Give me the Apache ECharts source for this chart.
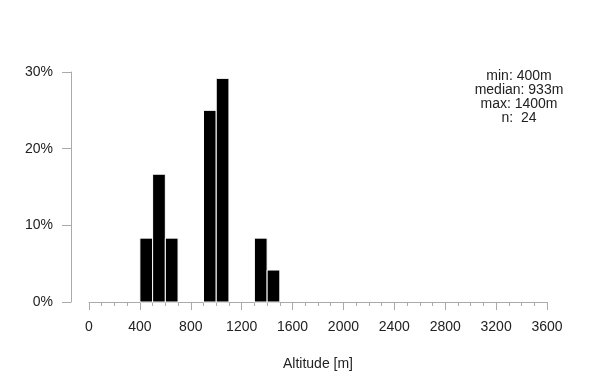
<!DOCTYPE html>
<html>
<head>
<meta charset="utf-8">
<script src="https://cdn.jsdelivr.net/npm/echarts@6/dist/echarts.min.js"></script>
<style>
  html, body { margin: 0; padding: 0; background: #fff; }
  #chart-container { width: 600px; height: 390px; }
</style>
</head>
<body>
<div id="chart-container"></div>
<script>
// histogram bins (100 m wide), share of observations in %
var binStart = [400, 500, 600, 900, 1000, 1300, 1400];
var binEnd = [500, 600, 700, 1000, 1100, 1400, 1500];
var binShare = [8.33, 16.67, 8.33, 25.0, 29.17, 8.33, 4.17];
var statLines = ["min: 400m", "median: 933m", "max: 1400m", "n:  24"];

var dom = document.getElementById("chart-container");
var myChart = echarts.init(dom, null, { renderer: "canvas" });

var barData = binStart.map(function (s, i) {
  return [s, binEnd[i], binShare[i]];
});

var font = "'Liberation Sans', Arial, sans-serif";

var option = {
  animation: false,
  backgroundColor: "#fff",
  grid: { left: 89, right: 53, top: 72, bottom: 88 },
  xAxis: {
    type: "value",
    min: 0,
    max: 3600,
    interval: 400,
    name: "Altitude [m]",
    nameLocation: "middle",
    nameGap: 55,
    nameTextStyle: { fontFamily: font, fontSize: 14, color: "#222" },
    axisLine: { show: true, onZero: false, lineStyle: { color: "#aaa", width: 1 } },
    axisTick: { show: true, inside: false, length: 8, lineStyle: { color: "#aaa" } },
    minorTick: { show: true, splitNumber: 4, length: 4, lineStyle: { color: "#aaa" } },
    axisLabel: {
      margin: 18,
      fontFamily: font,
      fontSize: 14,
      color: "#222",
      formatter: function (v) { return String(v); },
    },
    splitLine: { show: false },
  },
  yAxis: {
    type: "value",
    min: 0,
    max: 30,
    interval: 10,
    offset: 18,
    axisLine: { show: true, onZero: false, lineStyle: { color: "#aaa", width: 1 } },
    axisTick: { show: true, length: 9, lineStyle: { color: "#aaa" } },
    axisLabel: {
      margin: 18,
      fontFamily: font,
      fontSize: 14,
      color: "#222",
      formatter: "{value}%",
    },
    splitLine: { show: false },
  },
  graphic: [
    {
      type: "text",
      x: 519,
      y: 69,
      style: {
        text: statLines.join("\n"),
        align: "center",
        verticalAlign: "top",
        font: "14px " + font,
        lineHeight: 14,
        fill: "#222",
      },
    },
  ],
  series: [
    {
      type: "custom",
      data: barData,
      encode: { x: [0, 1], y: 2 },
      renderItem: function (params, api) {
        var p0 = api.coord([api.value(0), api.value(2)]);
        var p1 = api.coord([api.value(1), 0]);
        return {
          type: "rect",
          shape: { x: p0[0], y: p0[1], width: p1[0] - p0[0], height: p1[1] - p0[1] },
          style: { fill: "#000", stroke: "#fff", lineWidth: 1 },
        };
      },
    },
  ],
};

myChart.setOption(option);
window.addEventListener("resize", myChart.resize);
</script>
</body>
</html>
